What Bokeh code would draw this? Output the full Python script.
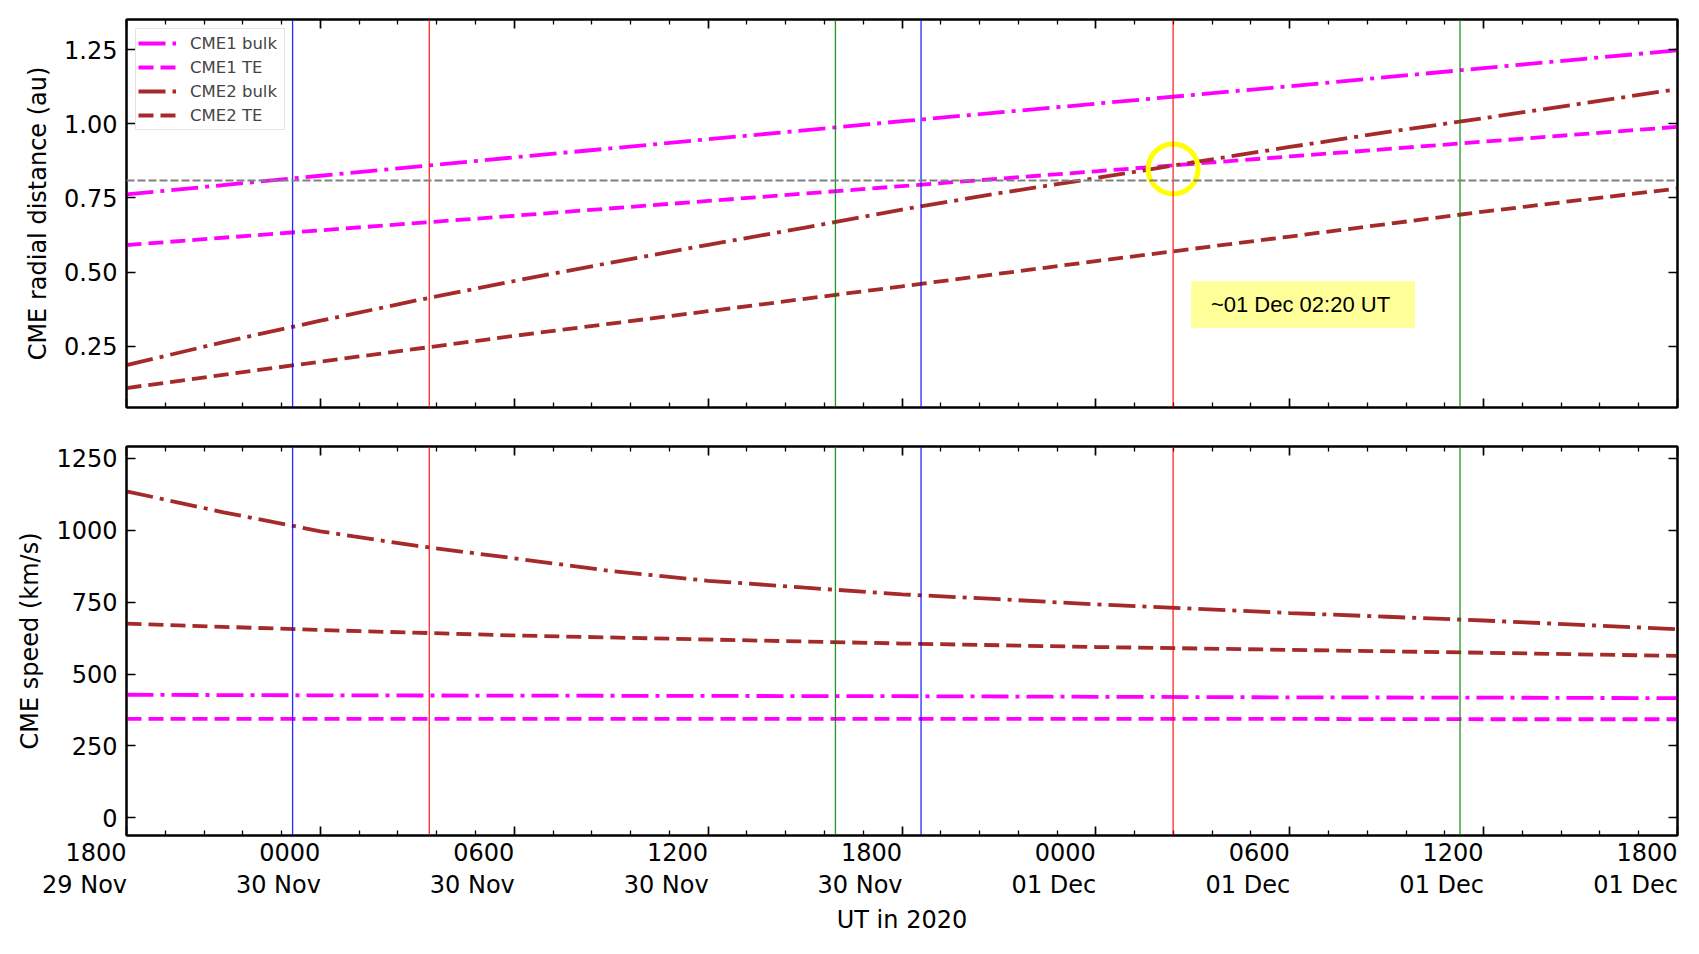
from bokeh.plotting import figure
from bokeh.models import FixedTicker, LinearAxis, Span, BoxAnnotation, Label, Range1d
from bokeh.layouts import column
from bokeh.embed import file_html
from bokeh.resources import INLINE

# ---------------- data (time = hours since 2020-11-29 18:00 UT) ----------------
hours_6h = [0, 6, 12, 18, 24, 30, 36, 42, 48]
hours_3h = [0, 3, 6, 9, 12, 15, 18, 21, 24, 27, 30, 33, 36, 39, 42, 45, 48]

cme1_bulk_dist = [0.762, 0.825, 0.887, 0.948, 1.009, 1.068, 1.127, 1.188, 1.248]
cme1_te_dist = [0.591, 0.641, 0.690, 0.740, 0.790, 0.840, 0.890, 0.940, 0.990]
cme2_bulk_dist = [0.186, 0.264, 0.336, 0.405, 0.470, 0.532, 0.592, 0.650, 0.711,
                  0.766, 0.817, 0.870, 0.922, 0.972, 1.019, 1.068, 1.117]
cme2_te_dist = [0.109, 0.198, 0.285, 0.368, 0.452, 0.537, 0.620, 0.704, 0.782]

cme1_bulk_speed = [428, 426, 425, 424, 423, 421, 419, 418, 416]
cme1_te_speed = [344, 344, 344, 344, 344, 344, 344, 343, 343]
cme2_bulk_speed = [1135, 1062, 996, 945, 902, 858, 824, 800, 777,
                   760, 742, 727, 712, 699, 686, 671, 656]
cme2_te_speed = [675, 653, 634, 620, 606, 594, 584, 574, 563]

tick_hours = [0, 6, 12, 18, 24, 30, 36, 42, 48]
tick_time = ["1800", "0000", "0600", "1200", "1800", "0000", "0600", "1200", "1800"]
tick_date = ["29 Nov", "30 Nov", "30 Nov", "30 Nov", "30 Nov", "01 Dec", "01 Dec", "01 Dec", "01 Dec"]
minor_hours = [h + k * 1.2 for h in tick_hours[:-1] for k in range(1, 5)]

dist_ticks = [0.25, 0.50, 0.75, 1.00, 1.25]
speed_ticks = [0, 250, 500, 750, 1000, 1250]

event_hours = [5.14, 9.37, 21.94, 24.59, 32.39, 41.27]
event_colors = ["blue", "red", "green", "blue", "red", "green"]
observer_distance = 0.809
crossing_hour, crossing_dist = 32.39, 0.848
note_text = "~01 Dec 02:20 UT"

MAGENTA = "#ff00ff"
BROWN = "#a52a2a"
DASHDOT = "27 7 4 7"
DASHED = "15 7"
FONT = "DejaVu Sans"
NB = "\u00a0"


def right_aligned(t, d, last):
    # matplotlib-style right alignment of both lines at the tick position
    if last:
        return NB * 3 + t + NB + "\n" + d + NB
    return t + NB * 8 + "\n" + d + NB * 11


label_map = {h: right_aligned(t, d, i == len(tick_hours) - 1)
             for i, (h, t, d) in enumerate(zip(tick_hours, tick_time, tick_date))}

x_range = Range1d(0, 48)


def style_axis(ax, ticker, show_labels):
    ax.ticker = ticker
    ax.axis_line_color = "black"
    ax.axis_line_width = 2
    ax.major_tick_in = 9
    ax.major_tick_out = 0
    ax.major_tick_line_width = 1.7
    ax.major_tick_line_color = "black"
    ax.minor_tick_in = 5
    ax.minor_tick_out = 0
    ax.minor_tick_line_width = 1.3
    ax.minor_tick_line_color = "black"
    ax.major_label_text_font = FONT
    if show_labels:
        ax.major_label_text_font_size = "24px"
        ax.major_label_text_color = "black"
        ax.major_label_standoff = 9
    else:
        ax.major_label_text_font_size = "1px"
        ax.major_label_text_color = None
        ax.major_label_standoff = 0
    ax.axis_label_text_font = FONT
    ax.axis_label_text_font_size = "24px"
    ax.axis_label_text_font_style = "normal"
    ax.axis_label_text_color = "black"


def make_fig(y_range, fh, top, bottom):
    p = figure(frame_width=1551, frame_height=fh,
               x_range=x_range, y_range=y_range,
               output_backend="svg", toolbar_location=None,
               min_border_left=126, min_border_right=8,
               min_border_top=top, min_border_bottom=bottom)
    p.xgrid.grid_line_color = None
    p.ygrid.grid_line_color = None
    p.outline_line_color = "black"
    p.outline_line_width = 2
    p.background_fill_color = "white"
    p.border_fill_color = "white"
    return p


xt = FixedTicker(ticks=tick_hours, minor_ticks=minor_hours)

# ---------------- top panel ----------------
p1 = make_fig(Range1d(0.0433, 1.352), 388, 19, 19)
yt1 = FixedTicker(ticks=dist_ticks, minor_ticks=[])
style_axis(p1.xaxis[0], xt, False)
style_axis(p1.yaxis[0], yt1, True)
p1.yaxis[0].major_label_overrides = {v: f"{v:.2f}" for v in dist_ticks}
p1.yaxis[0].axis_label = "CME radial distance (au)"
p1.yaxis[0].axis_label_standoff = 9
a = LinearAxis()
style_axis(a, xt, False)
p1.add_layout(a, "above")
a = LinearAxis()
style_axis(a, yt1, False)
p1.add_layout(a, "right")

for h, c in zip(event_hours, event_colors):
    p1.add_layout(Span(location=h, dimension="height", line_color=c, line_width=1.3, line_alpha=0.85))
p1.add_layout(Span(location=observer_distance, dimension="width", line_color="gray",
                   line_width=2, line_dash="8 3"))

p1.line(hours_6h, cme1_bulk_dist, line_color=MAGENTA, line_width=3.8, line_dash=DASHDOT, legend_label="CME1 bulk")
p1.line(hours_6h, cme1_te_dist, line_color=MAGENTA, line_width=3.8, line_dash=DASHED, legend_label="CME1 TE")
p1.line(hours_3h, cme2_bulk_dist, line_color=BROWN, line_width=3.8, line_dash=DASHDOT, legend_label="CME2 bulk")
p1.line(hours_6h, cme2_te_dist, line_color=BROWN, line_width=3.8, line_dash=DASHED, legend_label="CME2 TE")

p1.scatter(x=[crossing_hour], y=[crossing_dist], marker="circle", size=50,
           fill_color=None, line_color="yellow", line_width=5)

p1.add_layout(BoxAnnotation(left=32.95, right=39.88, bottom=0.312, top=0.469,
                            fill_color="#ffff99", fill_alpha=1.0, line_color=None))
p1.add_layout(Label(x=33.56, y=0.3905, text=note_text, text_font="Liberation Sans",
                    text_font_size="22px", text_baseline="middle", text_color="black"))

lg = p1.legend[0]
lg.location = "top_left"
lg.margin = 9
lg.padding = 2
lg.spacing = 0
lg.label_height = 24
lg.glyph_height = 24
lg.glyph_width = 38
lg.label_width = 92
lg.label_standoff = 14
lg.label_text_font = FONT
lg.label_text_font_size = "16.5px"
lg.border_line_color = "#cccccc"
lg.border_line_width = 1.5
lg.background_fill_alpha = 0.8

# ---------------- bottom panel ----------------
p2 = make_fig(Range1d(-61, 1290.6), 389, 20, 110)
yt2 = FixedTicker(ticks=speed_ticks, minor_ticks=[])
style_axis(p2.xaxis[0], xt, True)
p2.xaxis[0].major_label_overrides = label_map
p2.xaxis[0].major_label_standoff = 3
p2.xaxis[0].major_label_text_line_height = 1.17
p2.xaxis[0].axis_label = "UT in 2020"
p2.xaxis[0].axis_label_standoff = 4
style_axis(p2.yaxis[0], yt2, True)
p2.yaxis[0].axis_label = "CME speed (km/s)"
p2.yaxis[0].axis_label_standoff = 9
a = LinearAxis()
style_axis(a, xt, False)
p2.add_layout(a, "above")
a = LinearAxis()
style_axis(a, yt2, False)
p2.add_layout(a, "right")

for h, c in zip(event_hours, event_colors):
    p2.add_layout(Span(location=h, dimension="height", line_color=c, line_width=1.3, line_alpha=0.85))

p2.line(hours_6h, cme1_bulk_speed, line_color=MAGENTA, line_width=3.8, line_dash=DASHDOT)
p2.line(hours_6h, cme1_te_speed, line_color=MAGENTA, line_width=3.8, line_dash=DASHED)
p2.line(hours_3h, cme2_bulk_speed, line_color=BROWN, line_width=3.8, line_dash=DASHDOT)
p2.line(hours_6h, cme2_te_speed, line_color=BROWN, line_width=3.8, line_dash=DASHED)

layout = column(p1, p2, spacing=0)
open("out.html", "w").write(file_html(layout, INLINE))
